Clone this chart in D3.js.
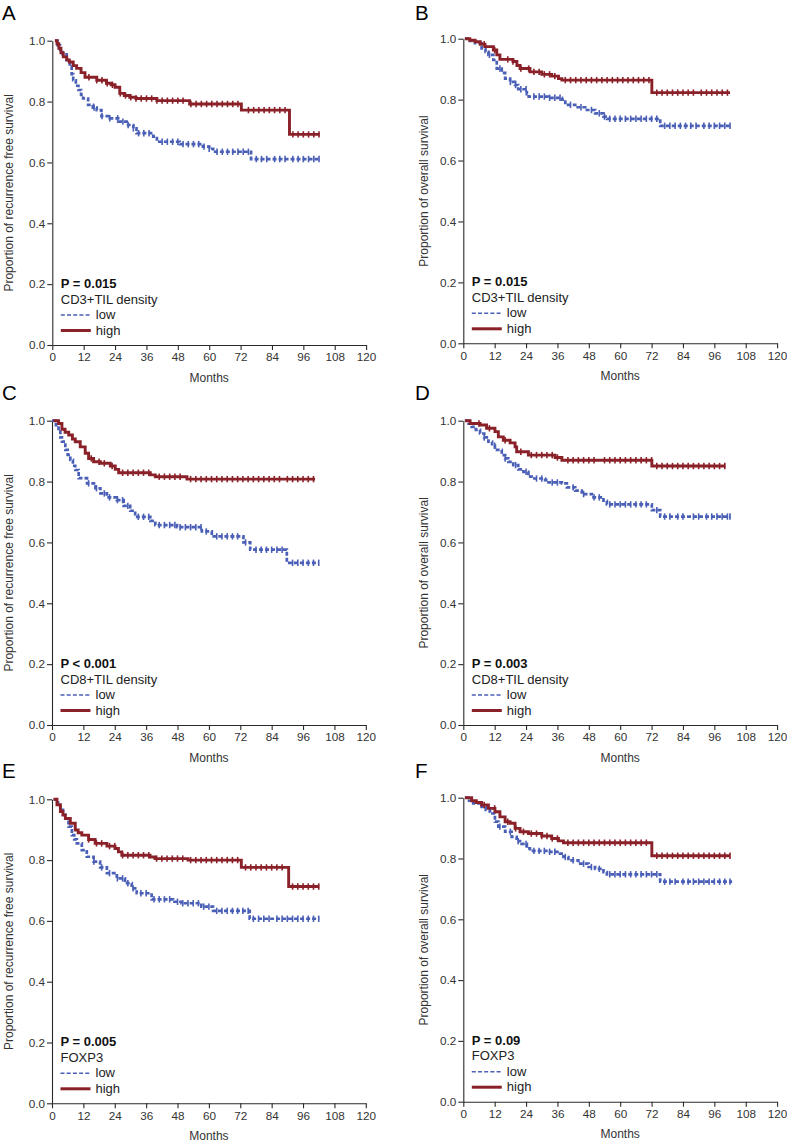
<!DOCTYPE html>
<html><head><meta charset="utf-8">
<script src="https://cdn.jsdelivr.net/npm/d3@7"></script>
<style>body{margin:0;background:#fff}svg{display:block;font-family:"Liberation Sans",Arial,sans-serif}</style>
</head><body><svg id="c" width="787" height="1144"></svg>
<script>
// ---------- data ----------
const xTicks = [0,12,24,36,48,60,72,84,96,108,120];
const yTicks = [0,0.2,0.4,0.6,0.8,1.0];
const panelLetters = ["A","B","C","D","E","F"];
const yTitles = ["Proportion of recurrence free survival","Proportion of overall survival",
  "Proportion of recurrence free survival","Proportion of overall survival",
  "Proportion of recurrence free survival","Proportion of overall survival"];
const pValues = ["P = 0.015","P = 0.015","P < 0.001","P = 0.003","P = 0.005","P = 0.09"];
const markers = ["CD3+TIL density","CD3+TIL density","CD8+TIL density","CD8+TIL density","FOXP3","FOXP3"];
const seriesNames = ["low","high"];

// step points [month, survival]
const A_low = [[1,1],[2,0.985],[3,0.97],[4,0.955],[5.5,0.936],[6.7,0.915],[7.4,0.89],[8,0.87],[9,0.852],[10,0.838],[11,0.822],[11.8,0.81],[13.7,0.789],[15.5,0.78],[17,0.772],[18.8,0.752],[22,0.745],[25.2,0.734],[29,0.723],[31,0.712],[32.2,0.696],[38.6,0.685],[40,0.668],[48.7,0.66],[57.6,0.652],[60,0.645],[61.5,0.635],[76,0.611],[102.3,0.611]];
const A_high = [[1,1],[1.8,0.99],[2.5,0.975],[3.3,0.96],[4.2,0.947],[5.5,0.937],[6.5,0.93],[8,0.918],[9.3,0.909],[11,0.895],[12.5,0.88],[17,0.87],[20.7,0.86],[22.5,0.855],[24,0.847],[25.8,0.827],[27.5,0.82],[29.6,0.814],[32,0.81],[40,0.803],[52.5,0.792],[72.3,0.772],[90.7,0.692],[102.2,0.692]];
const A_lowCens = [16,19,22,25,27,29,31,33,35,37,42,44,46,48,50,52,54,56,58,60,63,65,67,69,71,73,75,78,80,82,85,87,89,92,94,96,98,100,102];
const A_highCens = [14,17,19,21,23,26,28,30,32,34,36,38,40,42,44,46,48,50,53,55,57,59,61,63,65,67,69,71,75,77,79,81,83,85,87,89,92,94,96,98,100,102];

const B_low = [[0.6,1],[2.5,0.993],[4.5,0.985],[7,0.968],[8.5,0.957],[9.6,0.947],[11.5,0.93],[12.8,0.902],[14.7,0.888],[16,0.869],[17.9,0.858],[19.8,0.848],[21,0.834],[24.3,0.818],[25,0.81],[32.6,0.806],[37.7,0.8],[39,0.783],[42.8,0.775],[46.6,0.766],[50.4,0.755],[53.6,0.744],[55,0.737],[75.3,0.714],[102.3,0.714]];
const B_high = [[0.6,1],[2.5,0.995],[4.5,0.99],[6.5,0.982],[8.3,0.974],[11.5,0.963],[12.8,0.947],[14,0.932],[19,0.925],[20.5,0.912],[21.7,0.902],[25.5,0.891],[30,0.883],[33.8,0.877],[36.4,0.869],[37.7,0.864],[72.1,0.823],[102,0.823]];
const B_lowCens = [10,14,18,20,22,24,27,29,31,33,35,37,41,45,49,52,54,56,58,60,62,64,66,68,70,72,74,77,79,81,83,85,87,89,92,94,96,98,100,102];
const B_highCens = [8,12,17,19,22,25,27,29,31,33,35,39,41,43,45,47,49,51,53,55,57,59,61,63,65,67,69,71,74,76,78,80,82,84,86,88,91,93,95,97,99,101];

const C_low = [[0,1],[1.5,0.985],[2.5,0.964],[3.2,0.945],[3.8,0.931],[5.1,0.904],[6,0.888],[7,0.871],[8,0.852],[8.9,0.838],[10.2,0.811],[13.4,0.794],[16.6,0.778],[18.5,0.761],[21,0.748],[24.8,0.739],[27.4,0.72],[29.9,0.704],[31.8,0.684],[37.6,0.671],[39.5,0.657],[47.8,0.65],[57.3,0.636],[61.1,0.62],[73.2,0.6],[75.8,0.576],[89.8,0.533],[101.9,0.533]];
const C_high = [[0.5,1],[2.5,0.991],[3.8,0.972],[5,0.962],[6.4,0.953],[7.8,0.94],[8.9,0.931],[10.8,0.914],[12.7,0.893],[14,0.876],[15.9,0.865],[18.5,0.86],[22.3,0.851],[24.2,0.84],[25.5,0.829],[37.6,0.822],[39.5,0.816],[51.6,0.808],[100.6,0.808]];
const C_lowCens = [14,17,20,22,25,27,29,33,35,37,41,43,45,47,49,51,53,55,57,59,63,65,67,69,71,74,78,80,82,84,86,88,92,94,96,98,100,102];
const C_highCens = [15,18,20,23,27,29,31,33,35,37,41,43,45,47,49,53,55,57,59,61,63,65,67,69,71,73,75,77,79,81,83,85,87,90,92,94,96,98,100];

const D_low = [[0.6,1],[2,0.99],[3.2,0.98],[4.8,0.97],[6.4,0.958],[8,0.945],[9.6,0.931],[11,0.918],[12.1,0.904],[14.7,0.887],[16,0.876],[17.2,0.865],[19.1,0.854],[21,0.84],[23,0.832],[24.9,0.816],[26.2,0.81],[31.3,0.805],[32.6,0.797],[37.7,0.794],[39.6,0.781],[42.8,0.77],[45.3,0.759],[49.2,0.748],[53.6,0.737],[54.9,0.725],[72.1,0.706],[75.3,0.685],[102,0.685]];
const D_high = [[0.6,1],[2.6,0.991],[6.4,0.986],[8.9,0.975],[12.1,0.964],[13.4,0.947],[15.3,0.936],[17.9,0.927],[19.8,0.914],[20.4,0.898],[24.9,0.887],[35.1,0.879],[37.7,0.87],[72.1,0.851],[100.2,0.851]];
const D_lowCens = [8,12,16,20,24,28,30,34,36,42,46,50,52,56,58,60,62,64,66,68,70,74,77,79,82,84,88,90,93,95,97,99,101,102];
const D_highCens = [6,10,16,22,26,28,30,32,34,36,40,42,44,46,48,50,54,56,58,60,62,64,66,68,70,72,74,76,78,80,82,84,86,88,90,92,94,96,98,100];

const E_low = [[0.6,1],[1.5,0.99],[2.3,0.978],[3.2,0.965],[4.2,0.95],[5.1,0.937],[6.3,0.91],[7.6,0.882],[8.5,0.868],[9.5,0.855],[11.4,0.833],[13.3,0.811],[15.9,0.795],[18.4,0.776],[21,0.757],[24.8,0.74],[27.9,0.724],[30.5,0.707],[32.4,0.691],[38.1,0.671],[46.3,0.663],[49.5,0.658],[57.1,0.647],[61.6,0.633],[75.6,0.607],[102.2,0.607]];
const E_high = [[0.6,1],[1.9,0.982],[3.2,0.96],[4.2,0.948],[5.1,0.937],[7,0.921],[8.9,0.899],[10,0.89],[11.4,0.882],[14,0.868],[16.5,0.855],[21,0.846],[24.1,0.838],[25.4,0.827],[26.7,0.816],[37.5,0.81],[39.4,0.805],[52,0.8],[72.4,0.776],[90.5,0.713],[102.2,0.713]];
const E_lowCens = [16,19,22,25,27,29,31,34,36,39,41,43,45,48,50,52,54,56,58,60,63,65,67,69,71,73,75,77,79,81,83,86,88,90,92,94,96,98,100,102];
const E_highCens = [14,17,19,22,24,27,29,31,33,35,37,40,42,44,46,48,50,53,55,57,59,61,63,65,67,69,71,74,76,78,80,82,84,86,88,92,94,96,98,100,102];

const F_low = [[0.6,1],[2.2,0.99],[3.8,0.981],[7,0.97],[8.6,0.96],[10.2,0.948],[12.1,0.921],[13.4,0.905],[16,0.888],[18.5,0.871],[20.4,0.857],[22.3,0.848],[24.3,0.833],[25.5,0.825],[32.6,0.822],[37,0.816],[38.3,0.805],[40.2,0.794],[44,0.783],[47.9,0.772],[50.4,0.766],[53.6,0.755],[54.9,0.748],[75.3,0.724],[102.8,0.724]];
const F_high = [[0.6,1],[3.2,0.99],[5,0.984],[7,0.976],[9.6,0.965],[12.1,0.954],[14,0.937],[16,0.921],[17.9,0.916],[19.8,0.899],[21.7,0.888],[24.9,0.882],[30,0.874],[33.8,0.866],[36.4,0.858],[38.3,0.852],[72.1,0.809],[102,0.809]];
const F_lowCens = [10,14,18,21,24,27,29,31,33,35,39,42,46,49,52,56,58,60,62,64,66,68,70,72,74,77,79,81,84,86,88,90,92,94,96,98,100,102];
const F_highCens = [8,12,17,20,23,26,28,30,32,34,36,40,42,44,46,48,50,52,54,56,58,60,62,64,66,68,70,74,76,78,80,82,84,86,88,90,92,94,96,98,100,102];

const lowCurves = [A_low,B_low,C_low,D_low,E_low,F_low];
const highCurves = [A_high,B_high,C_high,D_high,E_high,F_high];
const lowCensors = [A_lowCens,B_lowCens,C_lowCens,D_lowCens,E_lowCens,F_lowCens];
const highCensors = [A_highCens,B_highCens,C_highCens,D_highCens,E_highCens,F_highCens];

// ---------- layout ----------
const layout = [
  {ax:52.3, top:40.7, bot:345,   lx:2,   ly:20,  tx:13},
  {ax:463.3,top:38.7, bot:343.3, lx:415, ly:20,  tx:428},
  {ax:52.0, top:420.7,bot:725,   lx:2,   ly:400, tx:13},
  {ax:463.3,top:420.7,bot:725,   lx:415, ly:400, tx:428},
  {ax:52.0, top:799.3,bot:1103.3,lx:2,   ly:778, tx:13},
  {ax:463.3,top:797.7,bot:1101.7,lx:415, ly:778, tx:428}
];
const plotW = 313.8;
const colLow = "#4a5fb6", colHigh = "#8a2129", axisCol = "#2a2a2a";

const svg = d3.select("#c");
svg.append("rect").attr("width",787).attr("height",1144).attr("fill","#fff");

const bis = d3.bisector(d => d[0]).right;
function survAt(curve, t){ const i = bis(curve, t) - 1; return curve[Math.max(0,i)][1]; }

layout.forEach((L, i) => {
  const x = d3.scaleLinear().domain([0,120]).range([L.ax, L.ax + plotW]);
  const y = d3.scaleLinear().domain([0,1]).range([L.bot, L.top]);
  const g = svg.append("g");

  g.append("text").attr("x", L.lx).attr("y", L.ly).attr("font-size", 20.5)
    .attr("fill", "#000").text(panelLetters[i]);

  const xa = g.append("g").attr("transform", `translate(0,${L.bot})`)
    .call(d3.axisBottom(x).tickValues(xTicks).tickSize(5).tickSizeOuter(0).tickPadding(3).tickFormat(d3.format("d")));
  const ya = g.append("g").attr("transform", `translate(${L.ax},0)`)
    .call(d3.axisLeft(y).tickValues(yTicks).tickSize(5).tickSizeOuter(0).tickPadding(2).tickFormat(d3.format(".1f")));
  [xa, ya].forEach(a => {
    a.select(".domain").attr("stroke", axisCol).attr("stroke-width", 1.1);
    a.selectAll(".tick line").attr("stroke", axisCol).attr("stroke-width", 1.1);
    a.selectAll(".tick text").attr("fill", "#333").attr("font-size", 11.7)
      .attr("font-family", '"Liberation Sans",Arial,sans-serif');
  });

  g.append("text").attr("x", L.ax + plotW/2).attr("y", L.bot + 36.5).attr("text-anchor","middle")
    .attr("font-size", 12).attr("fill", "#333").text("Months");
  g.append("text").attr("transform", `translate(${L.tx},${(L.top+L.bot)/2}) rotate(-90)`)
    .attr("text-anchor","middle").attr("font-size", 12).attr("fill", "#333").text(yTitles[i]);

  const line = d3.line().x(d => x(d[0])).y(d => y(d[1])).curve(d3.curveStepAfter);
  const series = [
    {curve: lowCurves[i], cens: lowCensors[i], col: colLow, dash: "4,2", w: 2.7},
    {curve: highCurves[i], cens: highCensors[i], col: colHigh, dash: null, w: 2.9}
  ];
  series.forEach(s => {
    g.append("path").datum(s.curve).attr("d", line).attr("fill","none")
      .attr("stroke", s.col).attr("stroke-width", s.w)
      .attr("stroke-dasharray", s.dash);
    g.selectAll(null).data(s.cens).enter().append("line")
      .attr("x1", d => x(d)).attr("x2", d => x(d))
      .attr("y1", d => y(survAt(s.curve, d)) - 3.2).attr("y2", d => y(survAt(s.curve, d)) + 3.2)
      .attr("stroke", s.col).attr("stroke-width", 1.6);
  });

  const lx = L.ax + 8.5;
  g.append("text").attr("x", lx).attr("y", L.bot - 57).attr("font-size", 13).attr("font-weight","bold")
    .attr("fill", "#111").text(pValues[i]);
  g.append("text").attr("x", lx).attr("y", L.bot - 41.5).attr("font-size", 13)
    .attr("fill", "#222").text(markers[i]);
  const leg = [{name: seriesNames[0], col: colLow, dash: "4,2.2", w: 1.6, dy: -30},
               {name: seriesNames[1], col: colHigh, dash: null, w: 3, dy: -14.5}];
  leg.forEach(e => {
    g.append("line").attr("x1", lx).attr("x2", lx + 30).attr("y1", L.bot + e.dy).attr("y2", L.bot + e.dy)
      .attr("stroke", e.col).attr("stroke-width", e.w).attr("stroke-dasharray", e.dash);
    g.append("text").attr("x", lx + 35).attr("y", L.bot + e.dy + 4).attr("font-size", 13)
      .attr("fill", "#222").text(e.name);
  });
});
</script></body></html>
